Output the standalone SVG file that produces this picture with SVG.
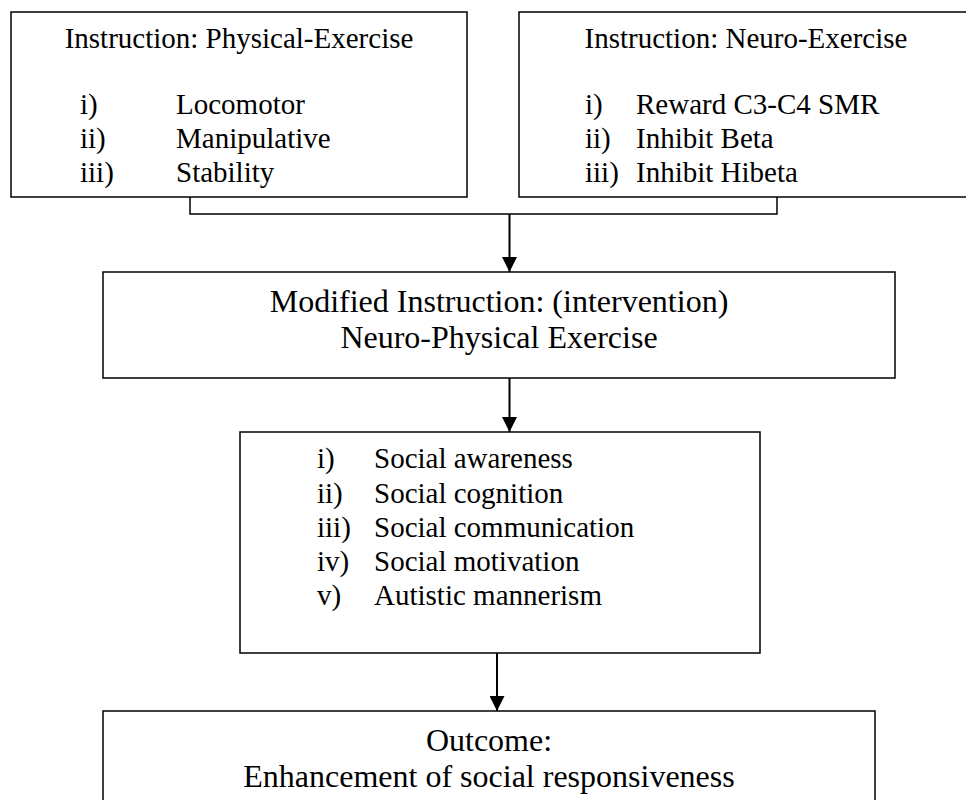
<svg xmlns="http://www.w3.org/2000/svg" width="966" height="800" viewBox="0 0 966 800">
<style>
.box{fill:#fff;stroke:#000;stroke-width:1.5}
.t{font-family:"Liberation Serif","Times New Roman",serif;fill:#000}
.s29{font-size:29px}
.s32{font-size:32px}
.c{text-anchor:middle}
.ln{fill:none;stroke:#000;stroke-width:1.5}
.ar{fill:none;stroke:#000;stroke-width:2}
</style>
<defs>
<marker id="ah" markerWidth="15" markerHeight="15" refX="15" refY="7.5" orient="auto" markerUnits="userSpaceOnUse">
<path d="M0,0 L15,7.5 L0,15 Z" fill="#000"/>
</marker>
</defs>
<rect width="966" height="800" fill="#fff"/>
<g id="physical">
<rect class="box" x="11" y="12" width="456" height="185"/>
<text class="t s29 c" x="239" y="48">Instruction: Physical-Exercise</text>
<text class="t s29" x="80" y="114">i)</text>
<text class="t s29" x="176" y="114">Locomotor</text>
<text class="t s29" x="80" y="148">ii)</text>
<text class="t s29" x="176" y="148">Manipulative</text>
<text class="t s29" x="80" y="182">iii)</text>
<text class="t s29" x="176" y="182">Stability</text>
</g>
<g id="neuro">
<rect class="box" x="519" y="12" width="460" height="185"/>
<text class="t s29 c" x="746" y="48">Instruction: Neuro-Exercise</text>
<text class="t s29" x="585" y="114">i)</text>
<text class="t s29" x="636" y="114">Reward C3-C4 SMR</text>
<text class="t s29" x="585" y="148">ii)</text>
<text class="t s29" x="636" y="148">Inhibit Beta</text>
<text class="t s29" x="585" y="182">iii)</text>
<text class="t s29" x="636" y="182">Inhibit Hibeta</text>
</g>
<g id="modified">
<rect class="box" x="103" y="272" width="792" height="106"/>
<text class="t s32 c" x="499" y="312">Modified Instruction: (intervention)</text>
<text class="t s32 c" x="499" y="348">Neuro-Physical Exercise</text>
</g>
<g id="social">
<rect class="box" x="240" y="432" width="520" height="221"/>
<text class="t s29" x="317" y="468">i)</text>
<text class="t s29" x="374" y="468">Social awareness</text>
<text class="t s29" x="317" y="502.5">ii)</text>
<text class="t s29" x="374" y="502.5">Social cognition</text>
<text class="t s29" x="317" y="537">iii)</text>
<text class="t s29" x="374" y="537">Social communication</text>
<text class="t s29" x="317" y="571">iv)</text>
<text class="t s29" x="374" y="571">Social motivation</text>
<text class="t s29" x="317" y="605">v)</text>
<text class="t s29" x="374" y="605">Autistic mannerism</text>
</g>
<g id="outcome">
<rect class="box" x="103" y="711" width="772" height="120"/>
<text class="t s32 c" x="489" y="751">Outcome:</text>
<text class="t s32 c" x="489" y="787">Enhancement of social responsiveness</text>
</g>
<g id="connectors">
<polyline class="ln" points="190,197 190,214 777,214 777,197"/>
<line class="ar" x1="509.5" y1="214" x2="509.5" y2="272" marker-end="url(#ah)"/>
<line class="ar" x1="509.5" y1="378" x2="509.5" y2="432" marker-end="url(#ah)"/>
<line class="ar" x1="497" y1="653" x2="497" y2="711" marker-end="url(#ah)"/>
</g>
</svg>
